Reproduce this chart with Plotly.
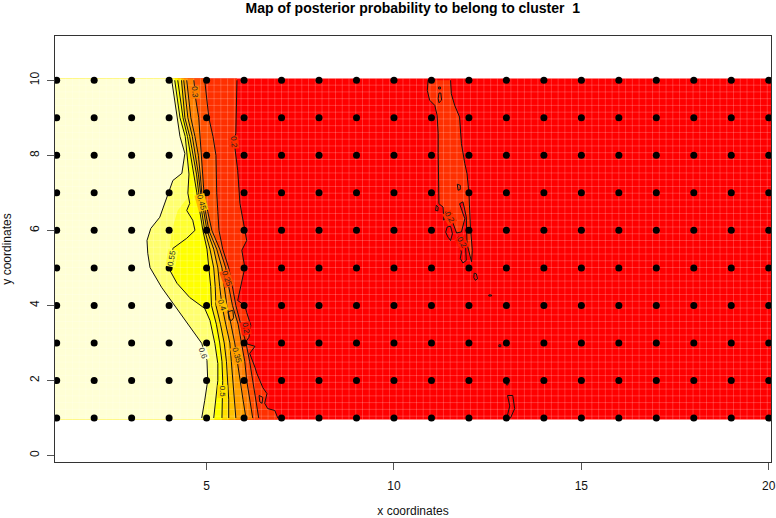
import numpy as np
import plotly.graph_objects as go

# contour levels: x position of each level along y
y_rows = [10, 9.5, 9, 8.5, 8, 7.5, 7, 6.5, 6, 5.5, 5, 4.5, 4, 3.5, 3, 2.5, 2, 1.5, 1]
x_050 = [4.23, 4.30, 4.37, 4.49, 4.58, 4.67, 4.74, 4.82, 4.90, 5.01, 5.07, 5.11, 5.13, 5.26, 5.35, 5.41, 5.43, 5.43, 5.41]
x_045 = [4.33, 4.37, 4.42, 4.55, 4.65, 4.73, 4.79, 4.87, 4.95, 5.09, 5.19, 5.23, 5.25, 5.37, 5.47, 5.53, 5.57, 5.59, 5.59]
x_040 = [4.39, 4.45, 4.50, 4.62, 4.71, 4.78, 4.84, 4.93, 5.01, 5.19, 5.30, 5.35, 5.41, 5.51, 5.62, 5.66, 5.70, 5.74, 5.78]
x_035 = [4.47, 4.53, 4.58, 4.69, 4.78, 4.83, 4.87, 4.97, 5.06, 5.27, 5.41, 5.47, 5.54, 5.65, 5.75, 5.82, 5.89, 5.97, 6.05]
x_030 = [4.66, 4.71, 4.79, 4.83, 4.86, 4.90, 4.93, 5.03, 5.14, 5.35, 5.51, 5.59, 5.69, 5.84, 5.94, 6.02, 6.07, 6.15, 6.23]
x_025 = [4.95, 5.01, 5.06, 5.17, 5.25, 5.26, 5.27, 5.30, 5.33, 5.43, 5.59, 5.69, 5.78, 5.91, 6.05, 6.15, 6.23, 6.31, 6.39]

y_060 = [10, 9.5, 9, 8.5, 8.05, 7.52, 7.33, 7.01, 6.53, 6.35, 6.05, 5.73, 5.39, 5.01, 4.48, 3.81, 3.33, 2.99, 2.53, 2, 1.47, 1]
x_060 = [4.07, 4.14, 4.21, 4.29, 4.42, 4.34, 4.10, 3.99, 3.83, 3.75, 3.51, 3.41, 3.43, 3.49, 3.80, 4.29, 4.63, 4.87, 5.01, 5.03, 4.95, 4.87]

y_055 = [10, 9.5, 9, 8.5, 8, 7.5, 6.99, 6.72, 6.53, 6.27, 6, 5.79, 5.6, 5.52, 5.28, 4.99, 4.59, 4.21, 3.92, 3.6, 2.99, 2.45, 2, 1.49, 1]
x_055 = [4.15, 4.22, 4.29, 4.43, 4.49, 4.53, 4.50, 4.55, 4.47, 4.63, 4.69, 4.47, 4.21, 4.10, 4.07, 3.99, 4.21, 4.55, 4.95, 5.09, 5.22, 5.30, 5.30, 5.25, 5.19]

y_020 = [10, 8.59, 8.4, 7.6, 6.72, 6, 5.73, 5.47, 5.01, 4.13, 4, 3.81, 3.47, 3.15, 2.99, 2.91, 2.72, 2.35, 2.19, 1.81, 1.65, 1.39, 1.25, 1.2, 1]
x_020 = [5.81, 5.78, 5.73, 5.83, 5.89, 6.02, 6.07, 5.94, 6.02, 5.83, 6.02, 6.07, 6.18, 6.13, 6.02, 6.29, 6.15, 6.29, 6.34, 6.50, 6.61, 6.55, 6.63, 6.82, 6.90]

# stronger yellow patch inside the 0.55-0.6 band (no contour of its own)
patch_x = [4.50, 4.23, 4.15, 4.07, 4.02, 4.10, 4.47, 4.69, 4.63, 4.47, 4.55]
patch_y = [6.88, 6.53, 6.27, 6.00, 5.55, 5.52, 5.79, 6.00, 6.27, 6.53, 6.72]

# the 0.2 island around x = 11-12
island_x = [10.91, 10.89, 10.95, 11.09, 11.15, 11.18, 11.18, 11.19, 11.20, 11.20, 11.31, 11.33, 11.38, 11.53, 11.58, 11.67, 11.80, 11.89, 11.75, 11.84, 11.93, 11.95, 11.95, 12.07, 12.09, 12.04, 12.02, 12.00, 11.95, 11.89, 11.80, 11.75, 11.62, 11.53, 11.51]
island_y = [10, 9.73, 9.47, 9.33, 9.07, 8.58, 8.05, 7.60, 7.16, 6.71, 6.62, 6.27, 6.49, 6.43, 6.18, 5.93, 5.96, 6.31, 6.71, 6.76, 6.36, 6.00, 5.64, 5.16, 5.47, 6.09, 6.71, 6.98, 7.51, 7.78, 8.31, 9.02, 9.33, 9.64, 10]

# small closed 0.2 contours
blobs = [
    ([11.19, 11.24, 11.24, 11.19], [9.82, 9.82, 9.77, 9.77]),
    ([11.20, 11.25, 11.27, 11.20, 11.18], [9.66, 9.66, 9.47, 9.40, 9.51]),
    ([11.69, 11.77, 11.77, 11.71], [7.23, 7.20, 7.09, 7.07]),
    ([11.13, 11.18, 11.17, 11.11], [6.67, 6.62, 6.52, 6.53]),
    ([11.42, 11.51, 11.56, 11.51, 11.44, 11.38], [6.09, 6.11, 5.91, 5.73, 5.82, 5.95]),
    ([11.71, 11.84, 11.91, 11.93, 11.84, 11.77, 11.80, 11.71], [5.82, 5.78, 5.56, 5.20, 5.13, 5.25, 5.42, 5.69]),
    ([12.14, 12.20, 12.23, 12.17, 12.13], [4.86, 4.84, 4.71, 4.67, 4.74]),
    ([13.03, 13.17, 13.22, 13.11, 13.01, 13.09], [1.6, 1.6, 1.25, 1.0, 1.0, 1.32]),
    ([12.53, 12.60, 12.60, 12.53], [4.28, 4.28, 4.25, 4.25]),
    ([12.80, 12.85, 12.85, 12.80], [2.95, 2.95, 2.90, 2.90]),
    ([13.0, 13.04, 13.04, 13.0], [1.95, 1.95, 1.88, 1.88]),
    ([5.57, 5.70, 5.72, 5.67, 5.60], [3.83, 3.87, 3.67, 3.60, 3.62]),
    ([6.40, 6.50, 6.48, 6.42], [1.60, 1.55, 1.39, 1.43]),
]

# (level, x, y) from top band to bottom band, painted from lowest level up
band_colors = {
    0.20: "#ff3000", 0.25: "#ff5000", 0.30: "#ff8000", 0.35: "#ffa000",
    0.40: "#ffc000", 0.45: "#ffe000", 0.50: "#ffff00", 0.55: "#ffff70",
    0.60: "#ffffd5",
}
level_lines = [
    (0.20, x_020, y_020), (0.25, x_025, y_rows), (0.30, x_030, y_rows),
    (0.35, x_035, y_rows), (0.40, x_040, y_rows), (0.45, x_045, y_rows),
    (0.50, x_050, y_rows), (0.55, x_055, y_055), (0.60, x_060, y_060),
]

# contour labels: text, x, y, angle, background
contour_labels = [
    ("0.3", 4.69, 9.68, 85, "#ff8000"), ("0.2", 5.73, 8.35, 85, "#ff3000"),
    ("0.45", 4.87, 6.75, 75, "#ffc000"), ("0.55", 4.07, 5.25, -80, "#ffff40"),
    ("0.25", 5.54, 4.72, 70, "#ff5000"), ("0.4", 5.41, 4.0, 72, "#ffc000"),
    ("0.35", 5.81, 2.67, 75, "#ffa000"), ("0.5", 5.43, 1.71, 90, "#ffe000"),
    ("0.6", 4.90, 2.72, 70, "#ffffd5"), ("0.2", 6.05, 3.39, 80, "#ff1800"),
    ("0.2", 11.49, 6.35, 60, "#ff3000"), ("0.2", 11.81, 5.68, 60, "#ff1800"),
]

x_sites = list(range(1, 21))
y_sites = list(range(1, 11))
x_ticks = [5, 10, 15, 20]
y_ticks = [0, 2, 4, 6, 8, 10]

X_MIN, X_MAX = 0.955, 20.06
Y_MIN, Y_MAX = -0.173, 11.18
IMG_TOP, IMG_BOTTOM = 10.05, 0.96

FONT = "Liberation Sans"
fig = go.Figure()


def add_fill(xs, ys, color):
    fig.add_trace(go.Scatter(x=xs, y=ys, mode="lines", fill="toself", fillcolor=color,
                             line=dict(width=0), hoverinfo="skip", showlegend=False))


# red background of the image
add_fill([X_MIN, X_MAX, X_MAX, X_MIN], [IMG_TOP, IMG_TOP, IMG_BOTTOM, IMG_BOTTOM], "#ff0000")

# island and bands
add_fill(island_x, island_y, band_colors[0.20])
for level, xs, ys in level_lines:
    add_fill([X_MIN, xs[0]] + list(xs) + [xs[-1], X_MIN],
             [IMG_TOP, IMG_TOP] + list(ys) + [IMG_BOTTOM, IMG_BOTTOM],
             band_colors[level])
add_fill(patch_x, patch_y, "#ffff30")

# faint seams between the image cells
seam_x, seam_y = [], []
for v in np.arange(1.06, X_MAX, 0.18):
    seam_x += [v, v, None]
    seam_y += [IMG_BOTTOM, IMG_TOP, None]
for v in np.arange(1.05, IMG_TOP, 0.18):
    seam_x += [X_MIN, X_MAX, None]
    seam_y += [v, v, None]
fig.add_trace(go.Scatter(x=seam_x, y=seam_y, mode="lines", hoverinfo="skip", showlegend=False,
                         line=dict(color="rgba(255,255,255,0.2)", width=1)))

# contour lines
for level, xs, ys in level_lines:
    fig.add_trace(go.Scatter(x=xs, y=ys, mode="lines", line=dict(color="#111111", width=1),
                             hoverinfo="skip", showlegend=False))
fig.add_trace(go.Scatter(x=island_x, y=island_y, mode="lines", line=dict(color="#111111", width=1),
                         hoverinfo="skip", showlegend=False))
for bx, by in blobs:
    fig.add_trace(go.Scatter(x=bx + bx[:1], y=by + by[:1], mode="lines",
                             line=dict(color="#111111", width=1), hoverinfo="skip", showlegend=False))

# sampling sites
site_x = [x for y in y_sites for x in x_sites]
site_y = [y for y in y_sites for x in x_sites]
fig.add_trace(go.Scatter(x=site_x, y=site_y, mode="markers", showlegend=False,
                         marker=dict(color="black", size=7)))

annotations = [
    dict(text=t, x=x, y=y, textangle=a, showarrow=False, bgcolor=bg, borderpad=0,
         font=dict(family=FONT, size=8, color="#222222"))
    for t, x, y, a, bg in contour_labels
]

fig.update_layout(
    width=776,
    height=518,
    margin=dict(l=55, r=4.5, t=36, b=56),
    paper_bgcolor="white",
    plot_bgcolor="white",
    font=dict(family=FONT, size=12, color="#111111"),
    title=dict(text="<b>Map of posterior probability to belong to cluster  1</b>",
               font=dict(family=FONT, size=14, color="black"),
               x=0.532, xanchor="center", y=0.994, yanchor="top"),
    annotations=annotations,
    xaxis=dict(range=[X_MIN, X_MAX], tickvals=x_ticks, ticks="outside", ticklen=7, tickcolor="#555555",
               automargin=False, showgrid=False, zeroline=False, showline=True, mirror=True,
               linecolor="#333333", linewidth=1, ticklabelstandoff=6,
               title=dict(text="x coordinates", font=dict(size=12), standoff=18)),
    yaxis=dict(range=[Y_MIN, Y_MAX], tickvals=y_ticks, ticks="outside", ticklen=7, tickcolor="#555555",
               automargin=False, tickangle=-90, showgrid=False, zeroline=False, showline=True, mirror=True,
               linecolor="#333333", linewidth=1, ticklabelstandoff=3,
               title=dict(text="y coordinates", font=dict(size=12), standoff=16)),
)

fig.write_html("out.html", config={"displayModeBar": False},
               post_script="document.body.style.margin='0';")
